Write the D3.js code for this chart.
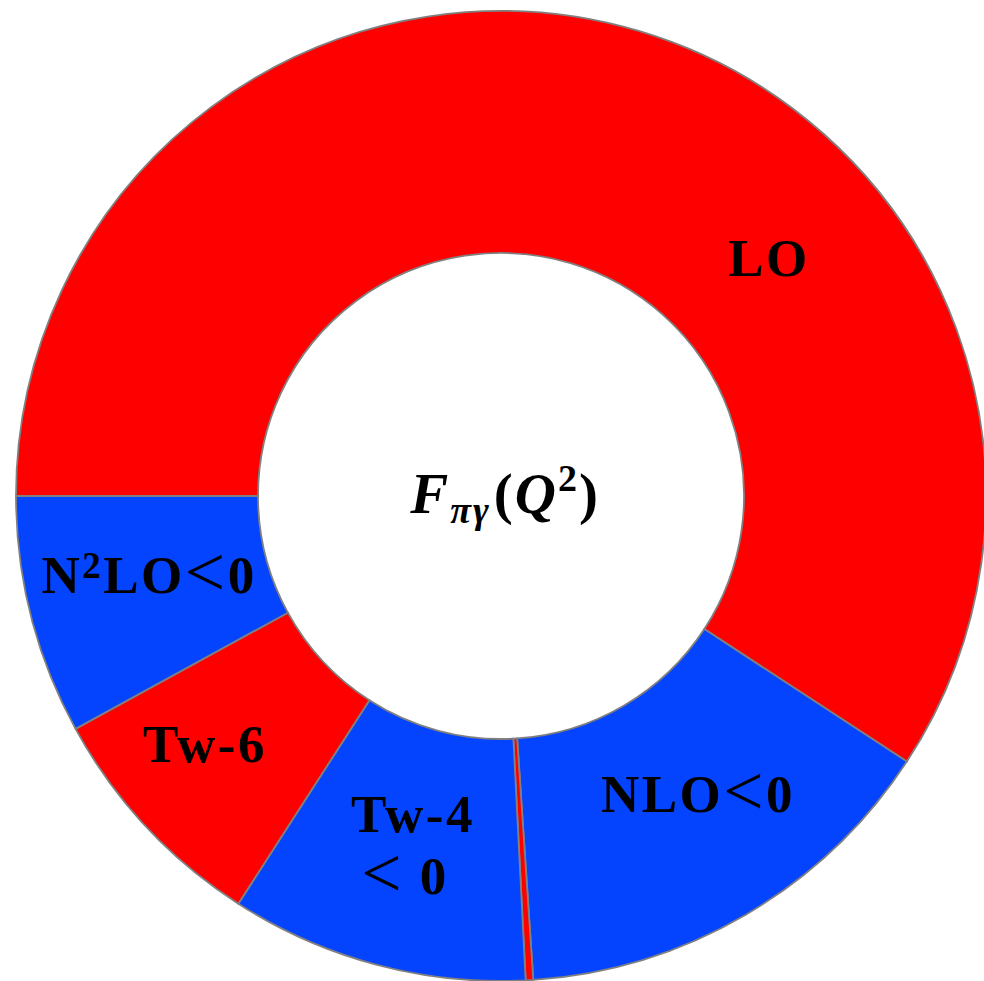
<!DOCTYPE html>
<html>
<head>
<meta charset="utf-8">
<script src="https://cdn.jsdelivr.net/npm/d3@7"></script>
<style>
  body { margin: 0; background: #fff; }
  .lbl { font-family: "Liberation Serif", serif; font-weight: bold; fill: #000; }
</style>
</head>
<body>
<div id="chart"></div>
<script>
// slice shares (percent), clockwise starting from 9 o'clock
var names = ["LO", "NLO", "tiny", "Tw-4", "Tw-6", "N2LO"]
var values = [59.22, 14.72, 0.25, 9.92, 7.92, 7.97]
var colors = ["#ff0000", "#0444ff", "#ff0000", "#0444ff", "#ff0000", "#0444ff"]

var width = 984, height = 981
var cx = 501, cy = 496
var outerR = 485, innerR = 243

var svg = d3.select("#chart").append("svg")
    .attr("width", width)
    .attr("height", height)

var g = svg.append("g")
    .attr("transform", "translate(" + cx + "," + cy + ")")

var pie = d3.pie()
    .sort(null)
    .startAngle(-Math.PI / 2)
    .endAngle(3 * Math.PI / 2)
    .value(function (d) { return d })

var arc = d3.arc()
    .innerRadius(innerR)
    .outerRadius(outerR)

g.selectAll("path")
    .data(pie(values))
    .enter()
    .append("path")
    .attr("d", arc)
    .attr("fill", function (d, i) { return colors[i] })
    .attr("stroke", "#808080")
    .attr("stroke-width", 1.8)

// labels (offsets from centre, hand placed like the original)
var fs = 53
function label(x, y, parts) {
    var t = g.append("text")
        .attr("class", "lbl")
        .attr("x", x)
        .attr("y", y)
        .attr("text-anchor", "middle")
        .style("font-size", fs + "px")
        .style("letter-spacing", "2.5px")
    parts.forEach(function (p) {
        var s = t.append("tspan").text(p.t)
        if (p.sup) s.attr("baseline-shift", "40%").style("font-size", (fs * 0.7) + "px")
        if (p.big) s.style("font-size", (fs * 1.35) + "px").style("font-weight", "normal")
            .attr("dy", 3)
        if (p.back) s.attr("dy", -3)
    })
    return t
}

label(268, -220, [{t: "LO"}])
label(197, 316, [{t: "NLO"}, {t: "<", big: true}, {t: "0", back: true}])
label(-296, 266, [{t: "Tw-6"}])
label(-88, 336, [{t: "Tw-4"}])
label(-96, 398, [{t: "<", big: true}, {t: " 0", back: true}])
label(-352, 97, [{t: "N"}, {t: "2", sup: true}, {t: "LO"}, {t: "<", big: true}, {t: "0", back: true}])

// centre formula
var c = g.append("text")
    .attr("class", "lbl")
    .attr("x", 4)
    .attr("y", 17)
    .attr("text-anchor", "middle")
    .style("font-size", "57px")
    .style("letter-spacing", "2px")
c.append("tspan").text("F").style("font-style", "italic")
c.append("tspan").text("πγ").style("font-style", "italic")
    .style("font-size", "38px").attr("dy", 10)
c.append("tspan").text("(").attr("dy", -10).attr("dx", 3)
c.append("tspan").text("Q").style("font-style", "italic")
c.append("tspan").text("2").style("font-size", "38px").attr("dy", -22)
c.append("tspan").text(")").attr("dy", 22)
</script>
</body>
</html>
